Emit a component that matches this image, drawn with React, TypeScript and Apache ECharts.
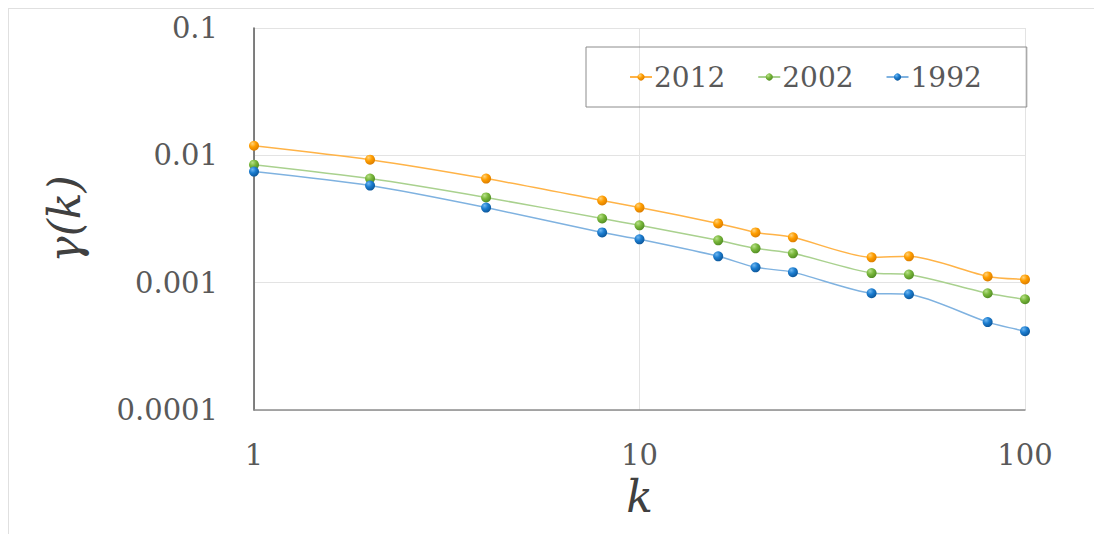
import React, { useEffect, useRef } from "react";
import * as echarts from "echarts";

const kValues = [1, 2, 4, 8, 10, 16, 20, 25, 40, 50, 80, 100];
const series2012 = [0.0119, 0.00925, 0.00657, 0.00442, 0.00389, 0.00292, 0.00248, 0.00227, 0.00158, 0.00161, 0.00112, 0.00106];
const series2002 = [0.00845, 0.00657, 0.00467, 0.00319, 0.00282, 0.00215, 0.00186, 0.0017, 0.00119, 0.00116, 0.000826, 0.000741];
const series1992 = [0.00745, 0.00579, 0.00389, 0.00248, 0.00219, 0.00161, 0.00132, 0.00121, 0.000826, 0.000811, 0.00049, 0.000416];
const xTickLabels = ["1", "10", "100"];
const yTickLabels = ["0.0001", "0.001", "0.01", "0.1"];

const FONT = "DejaVu Serif";

function marker(light: string, mid: string, dark: string) {
  return new echarts.graphic.RadialGradient(0.35, 0.3, 0.75, [
    { offset: 0, color: light },
    { offset: 0.45, color: mid },
    { offset: 1, color: dark },
  ]);
}

export default function App() {
  const ref = useRef<HTMLDivElement>(null);
  useEffect(() => {
    if (!ref.current) return;
    const chart = echarts.init(ref.current, null, { renderer: "svg" });
    const mk = (vals: number[]) => kValues.map((k, i) => [k, vals[i]]);
    const defs = [
      { name: "2012", vals: series2012, line: "#FFB347", m: marker("#FFD27A", "#FF9E00", "#D97B00") },
      { name: "2002", vals: series2002, line: "#A9D18E", m: marker("#B8E08A", "#7AB83C", "#4F8A22") },
      { name: "1992", vals: series1992, line: "#7FB2E0", m: marker("#6FB7F0", "#1C7DD0", "#0B5496") },
    ];
    const fmt = (labels: string[]) => (v: number) => {
      const s = labels.find((l) => Math.abs(parseFloat(l) - v) / v < 1e-6);
      return s ?? "";
    };
    chart.setOption({
      animation: false,
      backgroundColor: "#ffffff",
      textStyle: { fontFamily: FONT },
      grid: { left: 245, top: 19, right: 77, bottom: 124 },
      legend: {
        left: 577,
        top: 38,
        orient: "horizontal",
        borderColor: "#8c8c8c",
        borderWidth: 1,
        padding: [16, 45, 16, 43],
        itemGap: 32,
        itemWidth: 22,
        itemHeight: 9,
        textStyle: { fontFamily: FONT, fontSize: 28, color: "#595959", padding: [0, 0, 0, -3] },
        data: defs.map((d) => d.name),
      },
      xAxis: {
        type: "log",
        logBase: 10,
        min: 1,
        max: 100,
        name: "k",
        nameLocation: "middle",
        nameGap: 64,
        nameTextStyle: { fontFamily: FONT, fontSize: 44, fontStyle: "italic", color: "#404040" },
        axisLine: { show: true, lineStyle: { color: "#8c8c8c", width: 1.5 } },
        axisTick: { show: false },
        minorTick: { show: false },
        axisLabel: { fontFamily: FONT, fontSize: 29, color: "#595959", margin: 30, formatter: fmt(xTickLabels) },
        splitLine: { show: true, lineStyle: { color: "#e3e3e3", width: 1 } },
      },
      yAxis: {
        type: "log",
        logBase: 10,
        min: 0.0001,
        max: 0.1,
        name: "γ(k)",
        nameLocation: "middle",
        nameRotate: 90,
        nameGap: 168,
        nameTextStyle: { fontFamily: FONT, fontSize: 44, fontStyle: "italic", color: "#404040" },
        axisLine: { show: true, lineStyle: { color: "#595959", width: 1.5 } },
        axisTick: { show: false },
        axisLabel: { fontFamily: FONT, fontSize: 29, color: "#595959", margin: 36, formatter: fmt(yTickLabels) },
        splitLine: { show: true, lineStyle: { color: "#e3e3e3", width: 1 } },
      },
      series: defs.map((d) => ({
        name: d.name,
        type: "line",
        smooth: 0.25,
        data: mk(d.vals),
        symbol: "circle",
        symbolSize: 10,
        lineStyle: { color: d.line, width: 1.5 },
        itemStyle: { color: d.m, borderWidth: 0 },
      })),
    });
    return () => chart.dispose();
  }, []);
  return (
    <div
      ref={ref}
      style={{
        width: 1094,
        height: 526,
        borderTop: "1px solid #e0e0e0",
        borderLeft: "1px solid #e0e0e0",
        boxSizing: "border-box",
      }}
    />
  );
}
